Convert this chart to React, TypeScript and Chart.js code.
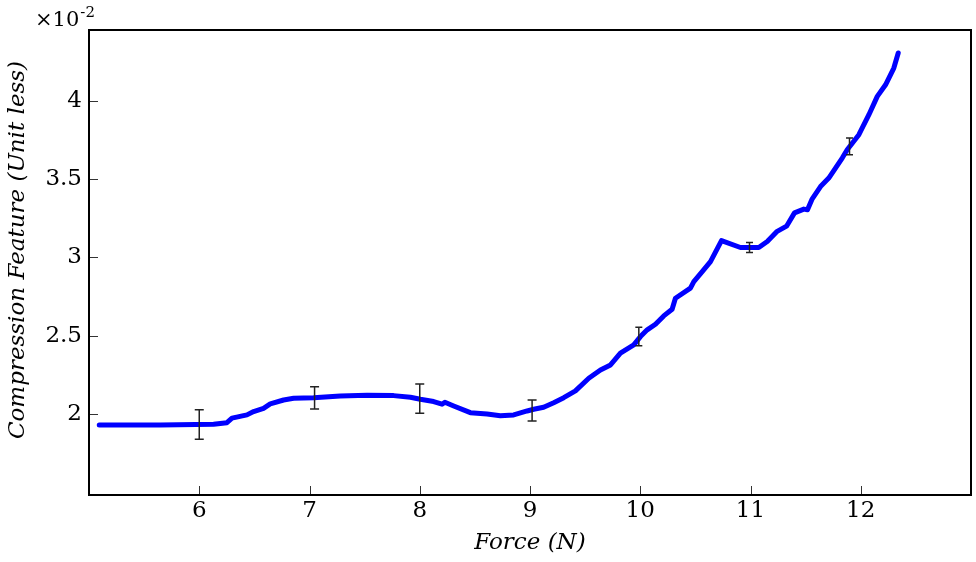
import React, { useEffect, useRef } from "react";
import { Chart, registerables } from "chart.js";

Chart.register(...registerables);

// Force (N) along the curve
const forceN = [
  5.093, 5.646, 6.13, 6.251, 6.297, 6.433, 6.493, 6.583, 6.644, 6.765,
  6.856, 7.037, 7.279, 7.522, 7.763, 7.915, 8.005, 8.126, 8.202, 8.228,
  8.308, 8.459, 8.611, 8.731, 8.852, 8.974, 9.034, 9.124, 9.215, 9.306,
  9.412, 9.533, 9.639, 9.73, 9.82, 9.941, 10.002, 10.063, 10.138, 10.213,
  10.289, 10.319, 10.455, 10.486, 10.562, 10.637, 10.737, 10.909, 11.075, 11.152,
  11.242, 11.327, 11.399, 11.484, 11.517, 11.56, 11.635, 11.71, 11.771, 11.832,
  11.877, 11.983, 12.074, 12.15, 12.225, 12.3, 12.34,
];
// Compression feature (×10^-2)
const compression = [
  1.93, 1.93, 1.934, 1.944, 1.973, 1.994, 2.015, 2.036, 2.064, 2.089,
  2.1, 2.104, 2.115, 2.119, 2.117, 2.107, 2.094, 2.079, 2.062, 2.075,
  2.051, 2.008, 2.0, 1.989, 1.994, 2.019, 2.03, 2.043, 2.072, 2.104,
  2.147, 2.228, 2.281, 2.313, 2.388, 2.441, 2.494, 2.537, 2.573, 2.626,
  2.669, 2.739, 2.803, 2.845, 2.909, 2.973, 3.107, 3.063, 3.063, 3.101,
  3.166, 3.199, 3.284, 3.308, 3.304, 3.374, 3.452, 3.506, 3.57, 3.634,
  3.687, 3.783, 3.911, 4.028, 4.102, 4.209, 4.305,
];

// Error bars
const errForce = [6.0, 7.046, 8.0, 9.019, 9.987, 10.991, 11.898];
const errLow = [1.838, 2.032, 2.004, 1.955, 2.435, 3.031, 3.655];
const errHigh = [2.026, 2.174, 2.192, 2.089, 2.554, 3.095, 3.762];
const errCap = [4.5, 4.5, 4.5, 4.5, 3.5, 3.5, 3.5];

// Ticks
const xTicks = [6, 7, 8, 9, 10, 11, 12];
const yTicks = [2, 2.5, 3, 3.5, 4];

const yTitle = "Compression Feature (Unit less)";

const FONT = '"DejaVu Serif", serif';

const decorPlugin = {
  id: "decor",
  afterDatasetsDraw(chart: any) {
    const { ctx, chartArea: a, scales } = chart;
    const x = scales.x;
    const y = scales.y;
    ctx.save();
    // error bars
    ctx.strokeStyle = "#222";
    ctx.lineWidth = 1.5;
    errForce.forEach((f, i) => {
      const px = x.getPixelForValue(f);
      const t = y.getPixelForValue(errHigh[i]);
      const b = y.getPixelForValue(errLow[i]);
      const cw = errCap[i];
      ctx.beginPath();
      ctx.moveTo(px, t);
      ctx.lineTo(px, b);
      ctx.moveTo(px - cw, t);
      ctx.lineTo(px + cw, t);
      ctx.moveTo(px - cw, b);
      ctx.lineTo(px + cw, b);
      ctx.stroke();
    });
    // inward tick marks
    ctx.strokeStyle = "#333";
    ctx.lineWidth = 1;
    ctx.beginPath();
    xTicks.forEach((v) => {
      const px = Math.round(x.getPixelForValue(v)) + 0.5;
      ctx.moveTo(px, a.bottom);
      ctx.lineTo(px, a.bottom - 9);
    });
    yTicks.forEach((v) => {
      const py = Math.round(y.getPixelForValue(v)) + 0.5;
      ctx.moveTo(a.left, py);
      ctx.lineTo(a.left + 9, py);
    });
    ctx.stroke();
    // frame
    ctx.strokeStyle = "#000";
    ctx.lineWidth = 2;
    ctx.strokeRect(a.left, a.top, a.right - a.left, a.bottom - a.top);
    // exponent label
    ctx.fillStyle = "#000";
    ctx.textBaseline = "alphabetic";
    ctx.textAlign = "left";
    ctx.font = `21px ${FONT}`;
    ctx.fillText("×10", 35, 26);
    const w = ctx.measureText("×10").width;
    ctx.font = `15px ${FONT}`;
    ctx.fillText("-2", 35 + w + 1, 17);
    // y axis title
    ctx.translate(18, 250);
    ctx.rotate(-Math.PI / 2);
    ctx.textAlign = "center";
    ctx.textBaseline = "middle";
    ctx.font = `italic 23px ${FONT}`;
    ctx.fillText(yTitle, 0, 0);
    ctx.restore();
  },
};

export default function App() {
  const ref = useRef<HTMLCanvasElement | null>(null);

  useEffect(() => {
    if (!ref.current) return;
    const data = forceN.map((f, i) => ({ x: f, y: compression[i] }));
    const chart = new Chart(ref.current, {
      type: "line",
      data: {
        datasets: [
          {
            data,
            borderColor: "#0000ff",
            borderWidth: 5,
            pointRadius: 0,
            tension: 0,
            fill: false,
            borderCapStyle: "round",
            borderJoinStyle: "round",
          },
        ],
      },
      options: {
        animation: false,
        responsive: false,
        devicePixelRatio: 1,
        layout: { padding: { top: 30, right: 5, left: 0, bottom: 0 } },
        plugins: {
          legend: { display: false },
          tooltip: { enabled: false },
        },
        scales: {
          x: {
            type: "linear",
            min: 5,
            max: 13,
            afterFit: (s: any) => {
              s.height = 67;
            },
            afterBuildTicks: (s: any) => {
              s.ticks = xTicks.map((v) => ({ value: v }));
            },
            grid: { display: false, drawTicks: false },
            border: { display: false },
            ticks: {
              padding: 2,
              color: "#000",
              font: { family: FONT, size: 23 },
              callback: (v: any) => String(v),
            },
            title: {
              display: true,
              text: "Force (N)",
              color: "#000",
              font: { family: FONT, size: 23, style: "italic" },
              padding: { top: 0, bottom: 5 },
            },
          },
          y: {
            type: "linear",
            min: 1.4824,
            max: 4.4518,
            afterFit: (s: any) => {
              s.width = 89;
            },
            afterBuildTicks: (s: any) => {
              s.ticks = yTicks.map((v) => ({ value: v }));
            },
            grid: { display: false, drawTicks: false },
            border: { display: false },
            ticks: {
              padding: 7,
              color: "#000",
              font: { family: FONT, size: 23 },
              callback: (v: any) => String(v),
            },
          },
        },
      },
      plugins: [decorPlugin],
    });
    return () => chart.destroy();
  }, []);

  return (
    <div style={{ position: "fixed", left: 0, top: 0, width: 976, height: 562, background: "#fff" }}>
      <canvas ref={ref} width={976} height={562} style={{ display: "block", width: 976, height: 562 }} />
    </div>
  );
}
